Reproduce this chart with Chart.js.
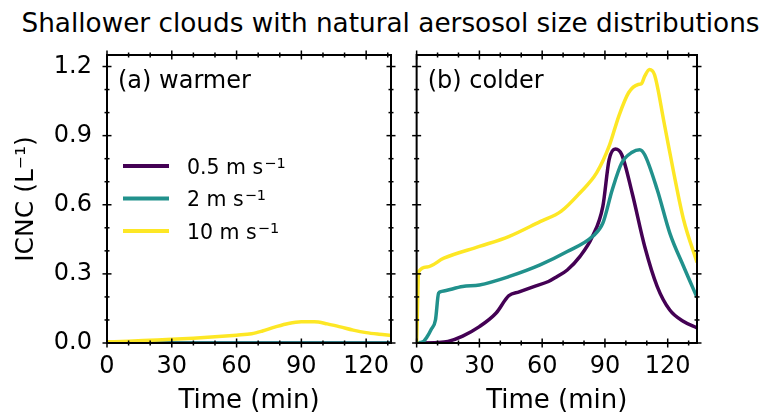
<!DOCTYPE html>
<html>
<head>
<meta charset="utf-8">
<script src="https://cdn.jsdelivr.net/npm/chart.js@4.4.1/dist/chart.umd.min.js"></script>
<style>
  body { margin: 0; background: #fff; }
  #wrap { position: relative; width: 765px; height: 420px; overflow: hidden; }
  #title { position: absolute; left: 8px; top: 5px; width: 765px; text-align: center;
           font: 26.3px "DejaVu Sans"; line-height: 36px; color: #000; }
  canvas { position: absolute; top: 0; }
</style>
</head>
<body>
<div id="wrap">
  <div id="title">Shallower clouds with natural aersosol size distributions</div>
  <canvas id="warm" width="400" height="420" style="left:0"></canvas>
  <canvas id="cold" width="365" height="420" style="left:400px"></canvas>
</div>
<script>
const speedLabels = ['0.5 m s', '2 m s', '10 m s'];
const unitPower = '−1';
const colors = ['#440154', '#21918c', '#fde725'];
const xTicks = [0, 30, 60, 90, 120];
const yTicks = [0, 0.3, 0.6, 0.9, 1.2];

// (a) warmer
const warmTime0 = [0, 131.5];
const warmSlow = [0, 0];
const warmMid = [0, 0];
const warmTime10 = [0, 10, 20, 30, 40, 50, 60, 67, 72, 78, 84, 90, 96, 102, 108, 114, 120, 126, 131.5];
const warmFast = [0.005, 0.008, 0.012, 0.016, 0.021, 0.027, 0.034, 0.04, 0.052, 0.07, 0.085, 0.092, 0.092, 0.083, 0.07, 0.056, 0.045, 0.038, 0.033];

// (b) colder
const coldTimeSlow = [0, 10, 15, 22, 30, 38, 44, 49, 56, 63, 67, 72, 78, 84, 89, 92, 95, 98, 103, 109, 115, 121, 127.6, 134];
const coldSlow = [0, 0.002, 0.007, 0.03, 0.071, 0.13, 0.205, 0.222, 0.245, 0.267, 0.288, 0.317, 0.375, 0.462, 0.593, 0.796, 0.842, 0.818, 0.651, 0.419, 0.245, 0.143, 0.093, 0.066];
const coldTimeMid = [0, 3, 5, 7, 9, 10.5, 12, 22, 30, 44, 59, 72, 84, 89, 93.5, 98, 103, 106.6, 109, 115, 121, 127.6, 134];
const coldMid = [0, 0.005, 0.027, 0.06, 0.1, 0.216, 0.224, 0.245, 0.252, 0.288, 0.339, 0.397, 0.462, 0.52, 0.665, 0.781, 0.828, 0.839, 0.817, 0.665, 0.477, 0.332, 0.198];
const coldTimeFast = [0, 1, 5, 13, 30, 44, 59, 69, 78, 86, 92, 96.6, 101.3, 105.9, 107.4, 109, 111.3, 113.7, 118.3, 122.9, 127.6, 134];
const coldFast = [0, 0.31, 0.33, 0.368, 0.419, 0.462, 0.527, 0.571, 0.651, 0.738, 0.854, 0.984, 1.086, 1.122, 1.125, 1.158, 1.187, 1.164, 0.955, 0.738, 0.535, 0.35];

const FONT = 'DejaVu Sans';
const pts = (t, v) => t.map((x, i) => ({ x: x, y: v[i] }));

function series(timeArrs, valArrs) {
  return valArrs.map((v, i) => ({
    label: speedLabels[i],
    data: pts(timeArrs[i], v),
    borderColor: colors[i],
    borderWidth: 3.5,
    pointRadius: 0,
    cubicInterpolationMode: 'monotone',
    order: 3 - i
  }));
}

// box round the plot, ticks crossing every side
const frameTicks = {
  id: 'frameTicks',
  afterDatasetsDraw(chart) {
    const { ctx, chartArea: a, scales: { x, y } } = chart;
    ctx.save();
    ctx.strokeStyle = '#000';
    ctx.lineWidth = 1.5;
    const seg = (x1, y1, x2, y2) => { ctx.beginPath(); ctx.moveTo(x1, y1); ctx.lineTo(x2, y2); ctx.stroke(); };
    for (let k = 0; k * 10 <= x.max; k++) {
      const px = x.getPixelForValue(k * 10);
      const len = k % 3 === 0 ? 4.5 : 2.5;
      seg(px, a.bottom - len, px, a.bottom + len);
      seg(px, a.top - len, px, a.top + len);
    }
    for (let k = 0; k * 0.1 <= y.max; k++) {
      const py = y.getPixelForValue(k * 0.1);
      const len = k % 3 === 0 ? 4.5 : 2.5;
      seg(a.left - len, py, a.left + len, py);
      seg(a.right - len, py, a.right + len, py);
    }
    ctx.lineWidth = 2;
    ctx.strokeRect(a.left, a.top, a.right - a.left, a.bottom - a.top);
    ctx.restore();
  }
};

// panel letter and (on the left panel) the legend
const panelText = {
  id: 'panelText',
  afterDraw(chart, args, opts) {
    const { ctx, chartArea: a } = chart;
    ctx.save();
    ctx.fillStyle = '#000';
    ctx.textBaseline = 'middle';
    ctx.font = '24px "' + FONT + '"';
    ctx.fillText(opts.text, a.left + 11, 82);
    if (opts.legend) {
      ctx.textBaseline = 'alphabetic';
      chart.data.datasets.forEach((ds, i) => {
        const yy = 166 + i * 32.5;
        ctx.strokeStyle = ds.borderColor;
        ctx.lineWidth = 4;
        ctx.beginPath();
        ctx.moveTo(a.left + 16, yy);
        ctx.lineTo(a.left + 62, yy);
        ctx.stroke();
        ctx.font = '20.5px "' + FONT + '"';
        const tx = a.left + 80;
        ctx.fillText(ds.label, tx, yy + 7.5);
        const w = ctx.measureText(ds.label).width;
        ctx.font = '14.5px "' + FONT + '"';
        ctx.fillText(unitPower, tx + w + 1, yy + 1.5);
      });
    }
    ctx.restore();
  }
};

function makeChart(id, datasets, xMax, pad, yWidth, text, legend) {
  const showY = yWidth > 0;
  return new Chart(document.getElementById(id), {
    type: 'line',
    data: { datasets: datasets },
    options: {
      responsive: false,
      animation: false,
      devicePixelRatio: 1,
      layout: { padding: pad },
      plugins: {
        legend: { display: false },
        tooltip: { enabled: false },
        panelText: { text: text, legend: legend }
      },
      scales: {
        x: {
          type: 'linear',
          min: 0,
          max: xMax,
          afterBuildTicks: s => { s.ticks = xTicks.map(v => ({ value: v })); },
          afterFit: s => { s.height = 77; },
          grid: { display: false, drawTicks: false },
          border: { display: false },
          ticks: { color: '#000', padding: 9, maxRotation: 0, minRotation: 0, autoSkip: false,
                   font: { family: FONT, size: 24 } },
          title: { display: true, text: 'Time (min)', color: '#000',
                   padding: { top: 0, bottom: 3 }, font: { family: FONT, size: 26 } }
        },
        y: {
          min: 0,
          max: 1.25,
          afterBuildTicks: s => { s.ticks = yTicks.map(v => ({ value: v })); },
          afterFit: s => { s.width = yWidth; },
          grid: { display: false, drawTicks: false },
          border: { display: false },
          ticks: { display: showY, color: '#000', padding: 15, font: { family: FONT, size: 24 },
                   callback: v => v.toFixed(1) },
          title: { display: showY, text: 'ICNC (L⁻¹)', color: '#000',
                   padding: { top: 11, bottom: 0 }, font: { family: FONT, size: 25 } }
        }
      }
    },
    plugins: [frameTicks, panelText]
  });
}

makeChart('warm', series([warmTime0, warmTime0, warmTime10], [warmSlow, warmMid, warmFast]),
          131.5, { left: 0, right: 9, top: 55, bottom: 0 }, 107, '(a) warmer', true);
makeChart('cold', series([coldTimeSlow, coldTimeMid, coldTimeFast], [coldSlow, coldMid, coldFast]),
          134, { left: 9, right: 68, top: 55, bottom: 0 }, 0, '(b) colder', false);
</script>
</body>
</html>
